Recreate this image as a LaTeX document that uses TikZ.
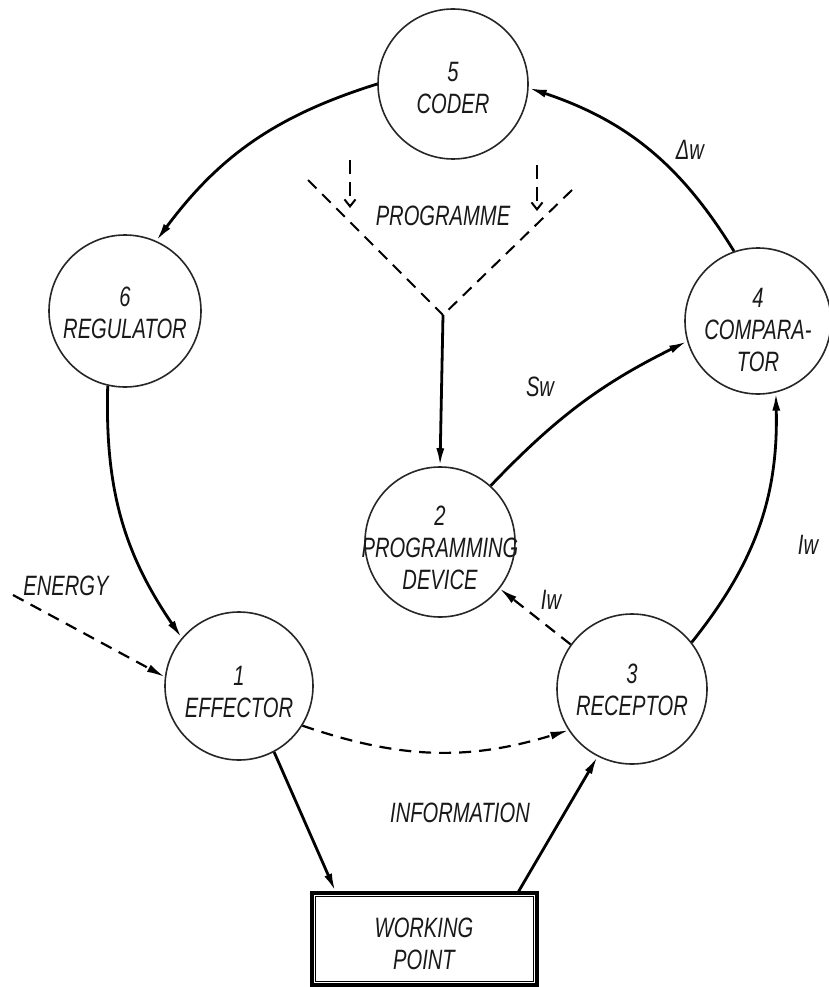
\documentclass[tikz,border=0pt]{standalone}
\usepackage{fontspec}
\newfontfamily\lblfont{Liberation Sans}[FakeStretch=0.72]
\usetikzlibrary{arrows.meta}
\begin{document}
\begin{tikzpicture}[x=1pt,y=-1pt,
  circ/.style={draw=black!85, line width=1.6pt, circle, minimum size=150pt, inner sep=0pt},
  txt/.style={font={\lblfont\itshape\fontsize{28}{32}\selectfont}, align=center, inner sep=0pt, text=black!90},
  flow/.style={line width=2.8pt, -{Latex[length=18pt,width=8pt]}},
  dflow/.style={line width=2.2pt, dash pattern=on 12pt off 8pt, -{Latex[length=18pt,width=8pt]}},
  dline/.style={line width=2pt, dash pattern=on 12pt off 8pt},
  barb/.style={line width=2pt, dash pattern=on 14pt off 8pt, -{Straight Barb[length=7pt,width=11pt]}},
]
\useasboundingbox (0,0) rectangle (828,987);

% circles
\node[circ] (c5) at (453,84) {};
\node[txt] (t5) at (453,88) {5\\CODER};
\node[circ, minimum size=152pt] (c6) at (125,311) {};
\node[txt] (t6) at (125,313) {6\\REGULATOR};
\node[circ, minimum size=146pt] (c4) at (758,321) {};
\node[txt] (t4) at (758,330) {4\\COMPARA-\\TOR};
\node[circ] (c2) at (440,542) {};
\node[txt] (t2) at (440,548) {2\\PROGRAMMING\\DEVICE};
\node[circ, minimum size=148pt] (c1) at (239,686) {};
\node[txt] (t1) at (239,692) {1\\EFFECTOR};
\node[circ] (c3) at (632,689) {};
\node[txt] (t3) at (632,690) {3\\RECEPTOR};

% working point
\node[draw, line width=3.2pt, minimum width=225pt, minimum height=92pt, inner sep=0pt] (wp) at (424.5,939) {};
\draw[line width=1.2pt] ([shift={(5pt,-5pt)}]wp.north west) rectangle ([shift={(-5pt,5pt)}]wp.south east);
\node[txt] (twp) at (424,944) {WORKING\\POINT};

% main loop
\draw[flow] (c5.180) to[bend right=18] (c6.66);
\draw[flow] (c4.109) to[bend right=20] (c5.-3);
\draw[flow] (c6.257) to[bend right=18] (c1.140);
\draw[dflow] (c1.-32) to[bend right=18] (c3.213);
\draw[flow] (c1.-62) -- ([xshift=25pt]wp.north west);
\draw[flow] ([xshift=-20pt]wp.north east) -- (c3.243);
\draw[flow] (c3.38) to[bend right=20] (c4.284);
\draw[dflow] (c3.144) -- (c2.-38);
\draw[flow] (c2.48) to[bend left=10] (c4.196);

% energy
\coordinate (en) at (13,595);
\draw[dflow] (en) -- (c1.173);
\node[txt] (len) at (66,586) {ENERGY};

% programme funnel
\coordinate (fl) at (308,180);
\coordinate (fr) at (572,190);
\coordinate (apex) at (443,315);
\draw[dline] (fl) -- (apex);
\draw[dline] (fr) -- (apex);
\coordinate (pa1) at (350,160);
\coordinate (pa1e) at (350,208);
\coordinate (pa2) at (537,165);
\coordinate (pa2e) at (537,211);
\draw[barb] (pa1) -- (pa1e);
\draw[barb] (pa2) -- (pa2e);
\draw[flow] (apex) -- (c2.north);
\node[txt] (lprog) at (443,216) {PROGRAMME};

% labels
\node[txt] (linfo) at (460,813) {INFORMATION};
\node[txt] (lsw) at (540,387) {Sw};
\node[txt] (liw1) at (551,600) {Iw};
\node[txt] (liw2) at (808,545) {Iw};
\node[txt] (ldw) at (690,150) {Δw};
\end{tikzpicture}
\end{document}
